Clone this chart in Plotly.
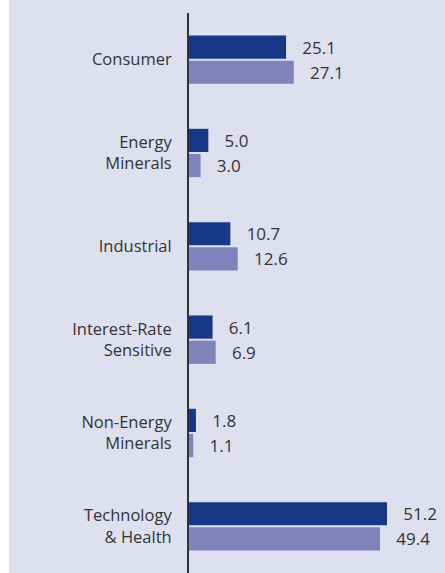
import plotly.graph_objects as go

categories = ["Consumer", "Energy<br>Minerals", "Industrial", "Interest-Rate<br>Sensitive",
              "Non-Energy<br>Minerals", "Technology<br>& Health"]
series_a = [25.1, 5.0, 10.7, 6.1, 1.8, 51.2]
series_b = [27.1, 3.0, 12.6, 6.9, 1.1, 49.4]

BG = "#dfe0ef"
DARK = "#173887"
LIGHT = "#8083bb"
TXT = "#333333"
FONT = "Open Sans"

fig = go.Figure()
for vals, col in [(series_a, DARK), (series_b, LIGHT)]:
    fig.add_trace(go.Bar(
        y=categories, x=vals, orientation="h",
        marker=dict(color=col, line=dict(width=0)),
        text=[f"\u00a0\u00a0\u00a0{v:.1f}" for v in vals],
        textposition="outside", cliponaxis=False,
        textfont=dict(family=FONT, size=17, color=TXT),
        hoverinfo="skip",
    ))

fig.update_layout(
    width=445, height=573,
    margin=dict(l=189, r=0, t=13, b=0),
    paper_bgcolor=BG, plot_bgcolor=BG,
    barmode="group", bargap=0.46, bargroupgap=0.08,
    showlegend=False,
    font=dict(family=FONT, size=16.5, color=TXT),
    xaxis=dict(range=[0, 66.2], showgrid=False, zeroline=False, showticklabels=False,
               ticks="", showline=False, fixedrange=True),
    yaxis=dict(autorange="reversed", showgrid=False, zeroline=False, showline=True,
               linecolor="#333333", linewidth=2, ticks="", ticklabelstandoff=12,
               tickfont=dict(family=FONT, size=16.5, color=TXT)),
    shapes=[dict(type="rect", xref="paper", yref="paper",
                 x0=-189/256, x1=-180/256, y0=-0.05, y1=1.1,
                 fillcolor="white", line=dict(width=0), layer="above")],
)

fig.write_html("out.html")
